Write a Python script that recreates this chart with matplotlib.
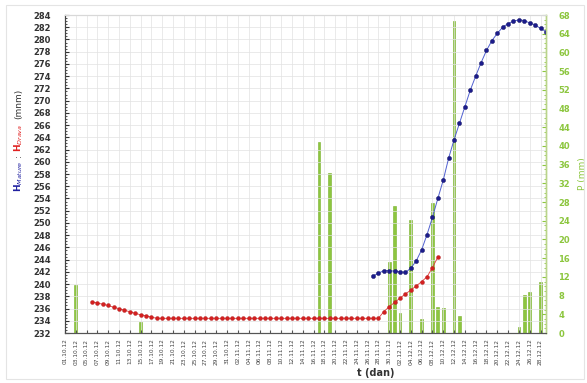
import numpy as np
import pandas as pd
import matplotlib
matplotlib.use("Agg")
import matplotlib.pyplot as plt
from matplotlib.patches import Rectangle

# =========================
# data (day index from first date)
# =========================
red_days = list(range(5, 70))
red_fall = [237.1, 236.9, 236.7, 236.5, 236.2, 236.0, 235.7, 235.5, 235.2, 235.0, 234.8, 234.6]
red_flat = [234.4] * 42
red_rise = [235.5, 236.3, 237.0, 237.7, 238.4, 239.0, 239.7, 240.4, 241.2, 242.7, 244.4]
red_level = red_fall + red_flat + red_rise

blue_days = list(range(57, 90))
blue_level = [241.3, 241.8, 242.2, 242.2, 242.1, 242.0, 241.9, 242.6, 243.8, 245.6,
              248.1, 250.9, 254.0, 257.0, 260.6, 263.6, 266.3, 269.0, 271.7, 274.0,
              276.2, 278.2, 279.8, 281.0, 282.0, 282.6, 283.0, 283.2, 283.1, 282.7,
              282.4, 281.8, 281.3]

rain_days = [2, 14, 47, 49, 60, 61, 62, 64, 66, 68, 69, 70, 72, 73, 84, 85, 86, 88]
rain_mm = [10.2, 2.4, 40.8, 34.2, 15.2, 27.2, 4.2, 24.2, 3.1, 27.9, 5.6, 5.4, 66.8, 3.6,
           1.3, 8.1, 8.8, 11.0]

tick_days = list(range(0, 89, 2))
tick_labels = [d.strftime("%d.%m.%y") for d in pd.date_range("2012-10-01", periods=45, freq="2D")]

# =========================
# plot
# =========================
fig = plt.figure(figsize=(5.87, 3.83), dpi=100)
ax = fig.add_axes([0.1107, 0.1305, 0.8193, 0.8303])
ax2 = ax.twinx()

ax.set_zorder(ax2.get_zorder() + 1)
ax.patch.set_visible(False)

green = "#8dc63f"
ax2.bar(rain_days, rain_mm, width=0.5, color=green, edgecolor="#78b02c", linewidth=0.4)
ax2.set_ylim(0, 68)
ax2.set_yticks(range(0, 69, 4))
ax2.set_yticks(range(0, 69, 1), minor=True)
ax2.tick_params(axis="y", which="major", labelsize=6, labelcolor="#8cc63e", color="#8cc63e",
                direction="in", length=3, pad=9)
ax2.tick_params(axis="y", which="minor", color="#8cc63e", direction="in", length=1.5)
for lab in ax2.get_yticklabels():
    lab.set_fontweight("bold")
ax2.set_ylabel("P (mm)", color="#8cc63e", fontsize=6.5, labelpad=6)

ax.plot(red_days, red_level, "-o", color="#e03a3a", mfc="#d42020", mec="#b01818",
        ms=2.8, lw=0.6, mew=0.3)
ax.plot(blue_days, blue_level, "-o", color="#5060d0", mfc="#1c1c8c", mec="#10105e",
        ms=3.0, lw=0.7, mew=0.3)

ax.set_xlim(0, 89)
ax.set_ylim(232, 284)
ax.set_yticks(range(232, 285, 2))
ax.set_yticks(np.arange(232, 284.1, 0.5), minor=True)
ax.tick_params(axis="y", which="major", labelsize=6, direction="in", length=3, pad=10,
               color="#333333")
ax.tick_params(axis="y", which="minor", direction="in", length=1.5, color="#333333")
for lab in ax.get_yticklabels():
    lab.set_fontweight("bold")
    lab.set_color("#333333")

ax.set_xticks(tick_days)
ax.set_xticklabels(tick_labels, rotation=90, fontsize=4.2, color="#444444")
ax.tick_params(axis="x", direction="in", length=2, pad=4, color="#555555")

ax.grid(True, color="#e2e2e2", linewidth=0.5)
ax.set_axisbelow(True)

for a in (ax, ax2):
    a.spines["top"].set_color("#d8d8d8")
    a.spines["left"].set_color("#444444")
    a.spines["bottom"].set_color("#555555")
    a.spines["right"].set_color("#b9d48a")
    a.spines["right"].set_linewidth(1.0)

ax.set_xlabel("t (dan)", fontsize=7, fontweight="bold", color="#333333")
ax.xaxis.set_label_coords(0.647, -0.11)

# coloured y-label built from pieces
fig.text(0.032, 0.54, "H$_{Mature}$", color="#2020a0", rotation=90, fontsize=6.5,
         fontweight="bold", ha="center", va="center")
fig.text(0.032, 0.595, ":", color="#333333", rotation=90, fontsize=6.5,
         ha="center", va="center")
fig.text(0.032, 0.64, "H$_{Drava}$", color="#e02020", rotation=90, fontsize=6.5,
         fontweight="bold", ha="center", va="center")
fig.text(0.032, 0.73, "(mnm)", color="#333333", rotation=90, fontsize=6.5,
         ha="center", va="center")

fig.patches.append(Rectangle((0.01, 0.01), 0.985, 0.978, transform=fig.transFigure,
                             fill=False, edgecolor="#e4e4e4", linewidth=0.8))

fig.savefig("out.png", dpi=100)
